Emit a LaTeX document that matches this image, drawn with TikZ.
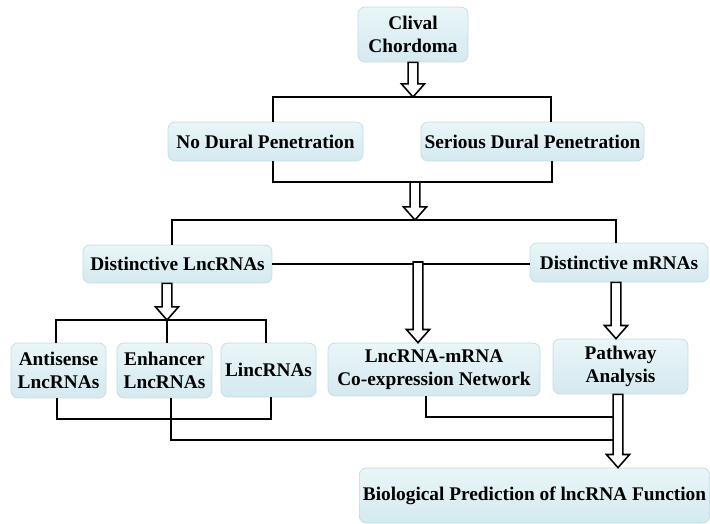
\documentclass[tikz,border=0pt]{standalone}
\usepackage{fontspec}
\setmainfont{Liberation Serif}
\usetikzlibrary{calc}
\definecolor{boxtop}{RGB}{234,246,248}
\definecolor{boxbot}{RGB}{212,233,239}
\definecolor{boxline}{RGB}{190,220,228}
\newcommand{\blockarrow}[2]{\draw[bigarrow] let \p1=(#1), \p2=(#2) in
  (\x1-2.8pt,\y1) -- (\x1-2.8pt,\y2+7.5pt) -- (\x1-6.6pt,\y2+7.5pt) -- (\x1,\y2)
  -- (\x1+6.6pt,\y2+7.5pt) -- (\x1+2.8pt,\y2+7.5pt) -- (\x1+2.8pt,\y1) -- cycle;}
\begin{document}
\begin{tikzpicture}[x=0.02cm,y=-0.02cm,
    box/.style={draw=boxline, top color=boxtop, bottom color=boxbot, rounded corners=4pt,
      align=center, inner xsep=2pt, inner ysep=1pt, font=\bfseries\fontsize{11}{13}\selectfont},
    link/.style={line width=1.1pt},
    bigarrow/.style={draw, fill=white, line width=0.9pt, line join=miter}]
    \useasboundingbox (0,0) rectangle (710,524);
    % boxes
    \node[box, minimum width=2.2cm, minimum height=1.1cm] (clival) at (413,34.5) {Clival\\Chordoma};
    \node[box, minimum width=3.9cm, minimum height=0.78cm] (nodural) at (265.5,141.5) {No Dural Penetration};
    \node[box, minimum width=3.98cm, minimum height=0.78cm] (serious) at (532.5,141.5) {Serious Dural Penetration};
    \node[box, minimum width=3.78cm, minimum height=0.76cm] (dlnc) at (177.5,264) {Distinctive LncRNAs};
    \node[box, minimum width=3.56cm, minimum height=0.78cm] (dmrna) at (619,262.5) {Distinctive mRNAs};
    \node[box, minimum width=1.9cm, minimum height=1.1cm] (antisense) at (58.5,370.5) {Antisense\\LncRNAs};
    \node[box, minimum width=1.9cm, minimum height=1.1cm] (enhancer) at (164.5,370.5) {Enhancer\\LncRNAs};
    \node[box, minimum width=1.9cm, minimum height=1.08cm] (linc) at (268.5,370) {LincRNAs};
    \node[box, minimum width=4.24cm, minimum height=1.06cm] (coexp) at (434,369.5) {LncRNA-mRNA\\Co-expression Network};
    \node[box, minimum width=2.7cm, minimum height=1.1cm] (pathway) at (620.5,366.5) {Pathway\\Analysis};
    \node[box, minimum width=6.98cm, minimum height=1.1cm] (bio) at (534.5,495.5) {Biological Prediction of lncRNA Function};
    % junctions
    \coordinate (j1) at (412,97);
    \coordinate (j2) at (415,182);
    \coordinate (j3) at (415,220);
    \coordinate (j4) at (418,262);
    \coordinate (j5) at (167,320);
    \coordinate (b1) at (164,419);
    \coordinate (b2) at (616,440);
    \coordinate (b3) at (616,417);
    % lines
    \draw[link] (273,0 |- nodural.north) |- (j1) -| (551,0 |- serious.north);
    \draw[link] (273,0 |- nodural.south) |- (j2) -| (552,0 |- serious.south);
    \draw[link] (172,0 |- dlnc.north) |- (j3) -| (616,0 |- dmrna.north);
    \draw[link] (dlnc.east) -- (dlnc.east -| dmrna.west);
    \draw[link] (56,0 |- antisense.north) |- (j5) -| (266,0 |- linc.north);
    \draw[link] (j5) -- (j5 |- enhancer.north);
    \draw[link] (57,0 |- antisense.south) |- (b1) -| (271,0 |- linc.south);
    \draw[link] (171,0 |- enhancer.south) |- (b2);
    \draw[link] (426,0 |- coexp.south) |- (b3);
    % block arrows
    \blockarrow{clival.south}{j1}
    \blockarrow{j2}{j3}
    \blockarrow{j4}{coexp.north}
    \blockarrow{616,0 |- dmrna.south}{pathway.north}
    \blockarrow{167,0 |- dlnc.south}{j5}
    \blockarrow{618,0 |- pathway.south}{bio.north}
\end{tikzpicture}
\end{document}
